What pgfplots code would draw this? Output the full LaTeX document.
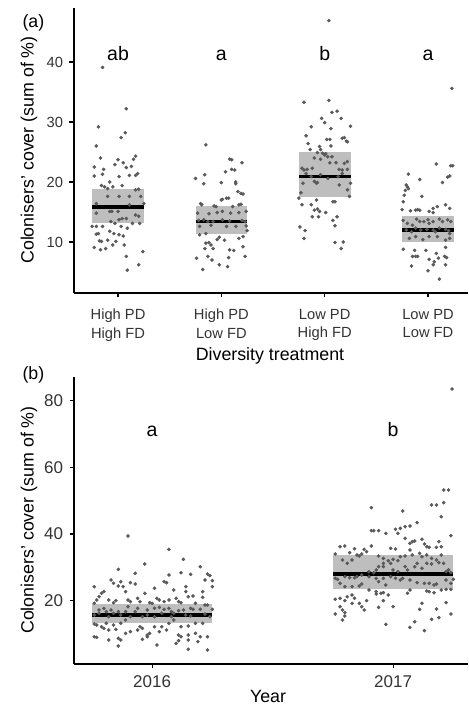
\documentclass[border=0pt]{standalone}
\usepackage{fontspec}
\setmainfont{Liberation Sans}
\usepackage{pgfplots}
\pgfplotsset{compat=1.18}
\definecolor{ptgray}{HTML}{595959}
\definecolor{bandgray}{HTML}{BEBEBE}
\definecolor{ticktext}{HTML}{333333}
\pgfplotsset{
  myaxis/.style={
    scale only axis, axis lines=left,
    axis line style={-, line width=1.1pt, black},
    tick style={black, line width=1.1pt},
    major tick length=4.5pt, tick align=outside,
    ticklabel style={font=\fontsize{14.7}{18.7}\selectfont, text=ticktext},
    yticklabel style={xshift=-3pt},
    /pgf/number format/assume math mode=true,
    clip=false,
  },
  pts/.style={only marks, mark=*, mark size=1.6pt, color=ptgray, mark options={draw=none, fill=ptgray}},
  band/.style={fill=bandgray, draw=none},
  meanline/.style={black, line width=3.8pt},
}
\begin{document}
\begin{tikzpicture}[x=1pt,y=1pt]
\useasboundingbox (0,0) rectangle (468,706);
% ---------------- panel (a)
\begin{axis}[myaxis, at={(74pt,413pt)}, anchor=south west,
  width=394pt, height=285pt,
  xmin=0.574, xmax=4.387, ymin=1.5, ymax=49,
  xtick={1,2,3,4},
  xticklabels={{High PD\\High FD},{High PD\\Low FD},{Low PD\\High FD},{Low PD\\Low FD}},
  xticklabel style={align=center, yshift=-8pt},
  ytick={10,20,30,40},
]
\addplot[band] coordinates {(0.75,13.1) (1.25,13.1) (1.25,18.8) (0.75,18.8)} -- cycle;
\addplot[band] coordinates {(1.75,11.3) (2.25,11.3) (2.25,16.05) (1.75,16.05)} -- cycle;
\addplot[band] coordinates {(2.75,17.45) (3.25,17.45) (3.25,25.05) (2.75,25.05)} -- cycle;
\addplot[band] coordinates {(3.75,9.95) (4.25,9.95) (4.25,14.3) (3.75,14.3)} -- cycle;
% group 1
\addplot[pts] coordinates {
(0.85,39.1) (1.08,32.2) (0.81,29.2) (1.07,28.2) (1.03,27.4) (0.79,26.0) (0.83,24.0) (1.17,24.3)
(1.15,23.8) (1.00,23.7) (1.05,23.2) (0.97,22.9) (0.77,22.5) (0.86,22.1) (0.77,21.0) (0.85,21.3)
(1.08,22.4) (1.13,22.6) (1.19,21.4) (1.17,21.1) (1.11,21.1) (1.01,20.9) (0.84,19.4) (0.87,19.2)
(0.90,18.9) (0.92,20.0) (0.95,19.2) (1.04,19.4) (1.17,18.7) (1.20,18.8) (0.90,17.6) (1.11,17.6)
(1.22,17.6) (1.01,17.6) (0.79,16.4) (1.25,16.4) (1.11,16.2) (0.92,15.1) (0.94,15.1) (1.00,15.1)
(0.79,14.8) (1.17,14.5) (1.20,14.3) (0.93,13.4) (1.01,13.7) (1.04,13.9) (1.08,13.9) (1.14,13.1)
(1.21,13.1) (0.97,13.1) (0.75,12.6) (0.79,12.6) (0.85,12.6) (1.03,12.6) (1.09,12.3) (0.79,11.3)
(0.81,11.4) (0.92,11.8) (0.96,11.4) (1.01,11.2) (0.82,10.2) (0.84,10.1) (0.90,10.3) (0.98,10.1)
(1.05,11.0) (0.77,9.1) (0.83,8.7) (0.88,8.9) (0.95,9.5) (1.06,9.5) (1.24,8.4) (1.08,7.6)
(1.20,6.2) (1.09,5.3)
};
% group 2
\addplot[pts] coordinates {
(1.85,26.2) (2.08,23.8) (2.10,23.7) (2.20,23.2) (2.04,21.7) (2.10,22.1) (2.13,22.0) (1.75,20.6)
(1.84,21.2) (1.83,19.7) (2.00,19.9) (2.14,20.0) (2.14,19.7) (2.16,18.4) (2.19,18.1) (2.21,18.0)
(2.00,17.0) (2.01,17.1) (2.05,17.3) (2.07,17.3) (1.80,16.4) (1.81,16.2) (1.93,16.0) (1.95,15.9)
(2.17,16.2) (2.19,16.3) (2.11,15.9) (1.77,14.8) (1.88,14.7) (1.96,14.9) (2.01,15.1) (2.09,14.8)
(2.17,14.9) (2.24,15.1) (1.78,13.6) (1.83,13.7) (1.87,13.4) (1.92,13.4) (2.01,13.7) (2.08,13.5)
(2.20,13.6) (2.23,13.4) (1.79,12.6) (1.90,12.8) (2.05,12.6) (2.14,12.6) (2.24,12.7) (1.79,11.2)
(1.85,11.4) (1.98,10.8) (2.03,10.3) (2.17,10.6) (2.21,10.9) (2.25,11.9) (1.85,9.8) (1.88,9.9)
(1.90,9.5) (1.92,8.9) (1.96,10.4) (1.84,8.9) (2.08,8.7) (2.12,8.6) (2.21,9.2) (1.76,7.3)
(1.87,7.6) (1.91,7.0) (2.07,7.4) (2.23,7.6) (1.82,5.4) (1.98,6.2) (2.06,5.9)
};
% group 3
\addplot[pts] coordinates {
(3.04,46.9) (2.80,33.3) (3.04,33.6) (3.07,31.6) (3.12,31.8) (2.97,30.6) (3.00,29.9) (3.16,30.6)
(2.87,29.2) (3.06,28.9) (3.25,29.3) (2.82,27.7) (3.02,27.1) (3.05,27.1) (3.17,27.3) (3.19,27.4)
(3.21,26.8) (3.22,26.7) (2.84,26.4) (2.95,25.9) (3.06,26.0) (2.86,25.4) (2.93,24.9) (2.98,24.8)
(3.00,24.5) (3.01,24.7) (3.03,24.2) (2.96,25.4) (2.90,24.0) (2.96,23.8) (3.07,24.2) (3.11,23.2)
(3.05,23.2) (3.19,23.1) (3.22,23.4) (2.78,22.3) (2.80,22.0) (2.83,22.1) (2.88,22.3) (3.14,22.1)
(3.17,22.0) (3.22,22.1) (2.82,21.4) (2.87,20.9) (2.96,21.2) (3.03,20.6) (3.13,20.9) (3.17,21.4)
(2.79,19.8) (2.92,19.8) (2.90,20.1) (2.93,19.9) (3.14,19.5) (3.25,19.8) (3.22,18.7) (2.77,18.2)
(3.24,17.6) (2.75,17.3) (2.92,17.0) (3.08,16.7) (3.10,16.7) (2.78,16.2) (2.87,16.2) (2.90,15.3)
(2.93,15.5) (2.95,15.1) (3.01,14.9) (2.88,14.2) (2.94,14.2) (3.08,13.6) (3.12,14.2) (3.10,12.7)
(2.76,12.5) (2.81,11.9) (2.80,10.6) (3.10,9.9) (3.18,10.0) (3.16,8.9)
};
% group 4
\addplot[pts] coordinates {
(4.23,35.6) (4.08,23.0) (4.22,22.7) (4.24,22.7) (3.81,21.3) (4.21,21.0) (4.19,20.8) (3.92,20.4)
(3.79,19.5) (3.80,19.2) (3.81,18.9) (4.14,19.9) (3.78,18.6) (3.77,17.8) (3.94,17.6) (3.76,16.7)
(4.17,16.2) (4.09,15.9) (4.05,15.6) (3.75,15.4) (3.83,15.2) (3.88,15.3) (3.90,15.4) (3.92,15.3)
(4.01,15.1) (4.05,14.9) (4.21,15.6) (3.89,13.8) (3.92,13.4) (3.96,13.4) (4.00,13.7) (4.01,13.1)
(4.05,13.4) (3.76,13.6) (3.80,13.1) (3.85,12.8) (4.11,13.8) (4.14,13.4) (4.19,13.7) (4.22,13.4)
(3.79,12.0) (3.84,11.7) (3.88,12.3) (3.93,12.0) (3.99,12.1) (4.05,12.0) (4.07,11.7) (4.11,12.3)
(4.17,12.1) (4.20,11.9) (4.21,11.4) (3.82,10.6) (3.88,10.9) (3.95,10.4) (4.01,10.9) (4.09,10.9)
(4.17,10.3) (4.21,10.6) (3.76,8.8) (3.87,8.6) (3.98,8.6) (4.17,9.1) (3.85,7.6) (3.88,7.6)
(3.90,7.6) (4.01,7.1) (4.10,7.3) (4.16,7.6) (4.08,8.1) (4.18,7.4) (3.84,6.0) (4.05,6.2)
(4.06,6.7) (4.17,6.2) (4.00,5.2) (4.11,3.8)
};
\addplot[meanline] coordinates {(0.75,15.8) (1.25,15.8)};
\addplot[meanline] coordinates {(1.75,13.4) (2.25,13.4)};
\addplot[meanline] coordinates {(2.75,20.9) (3.25,20.9)};
\addplot[meanline] coordinates {(3.75,12.0) (4.25,12.0)};
\node[anchor=base, font=\fontsize{19.5}{22}\selectfont] at (axis cs:1,40.2) {ab};
\node[anchor=base, font=\fontsize{19.5}{22}\selectfont] at (axis cs:2,40.2) {a};
\node[anchor=base, font=\fontsize{19.5}{22}\selectfont] at (axis cs:3,40.2) {b};
\node[anchor=base, font=\fontsize{19.5}{22}\selectfont] at (axis cs:4,40.2) {a};
\end{axis}
% ---------------- panel (b)
\begin{axis}[myaxis, at={(74pt,42pt)}, anchor=south west,
  width=394pt, height=287pt,
  xmin=0.676, xmax=2.311, ymin=1, ymax=87.1,
  xtick={1,2}, xticklabels={2016,2017},
  ticklabel style={font=\fontsize{17}{20}\selectfont},
  xticklabel style={yshift=-4pt},
  ytick={20,40,60,80},
]
\addplot[band] coordinates {(0.75,13.2) (1.25,13.2) (1.25,19.0) (0.75,19.0)} -- cycle;
\addplot[band] coordinates {(1.75,23.4) (2.25,23.4) (2.25,33.7) (1.75,33.7)} -- cycle;
% 2016
\addplot[pts] coordinates {
(0.90,39.4) (1.07,35.4) (0.97,31.0) (1.13,32.4) (1.20,30.2) (0.86,29.4) (0.93,28.2) (1.07,27.7)
(1.12,28.4) (1.16,27.9) (1.23,28.0) (1.24,27.5) (1.22,26.2) (1.25,26.0) (0.76,24.2) (0.83,26.2)
(0.84,25.2) (0.87,25.7) (0.88,24.2) (0.86,24.4) (0.91,25.4) (0.93,25.0) (1.05,25.7) (1.06,25.4)
(1.01,23.7) (1.14,24.2) (1.14,22.7) (1.21,22.7) (1.25,24.2) (0.78,21.2) (0.79,22.2) (0.80,22.7)
(0.82,20.2) (0.84,19.4) (0.85,20.0) (0.89,22.7) (0.90,20.2) (0.91,19.7) (0.94,20.7) (0.95,19.7)
(0.97,22.2) (0.99,19.4) (1.00,19.2) (1.02,20.7) (1.03,20.2) (1.05,19.7) (1.07,20.2) (1.09,23.2)
(1.10,20.7) (1.11,19.7) (1.12,19.4) (1.15,21.2) (1.17,21.4) (1.18,19.2) (1.21,21.0) (1.23,18.7)
(0.76,19.2) (0.77,20.2)
(0.78,17.2) (0.80,17.7) (0.81,16.7) (0.83,17.2) (0.86,16.7) (0.90,18.2) (0.93,16.7) (0.94,17.7)
(0.98,17.2) (1.01,17.7) (1.03,18.0) (1.05,17.4) (1.07,17.7) (1.08,16.7) (1.11,17.0) (1.13,17.2)
(1.16,17.7) (1.17,17.4) (1.20,17.4) (1.22,18.7) (1.25,17.4) (0.76,15.7) (0.78,16.2) (0.82,15.2)
(0.84,16.2) (0.87,15.7) (0.89,16.7) (0.91,15.2) (0.96,15.2) (0.98,15.7) (1.01,15.2) (1.04,16.2)
(1.08,15.2) (1.09,16.2) (1.14,15.7) (1.16,15.4) (1.22,16.0) (1.24,15.2)
(0.76,13.0) (0.77,12.7) (0.79,12.2) (0.81,13.2) (0.84,12.7) (0.87,13.2) (0.89,14.2) (0.95,12.2)
(0.96,11.7) (1.01,12.2) (1.04,12.2) (1.07,13.2) (1.09,14.2) (1.12,12.2) (1.15,12.4) (1.18,13.2)
(1.21,13.2) (0.80,11.7) (0.82,11.2) (0.85,11.4) (0.89,10.2) (0.91,10.7) (0.94,11.2) (0.98,9.7)
(0.99,10.2) (1.03,10.7) (1.06,11.2) (1.11,9.7) (1.12,9.2) (1.15,9.7) (1.18,10.2) (1.20,9.2)
(1.23,9.2) (0.76,9.2) (0.77,9.0) (0.82,8.2) (0.86,8.7) (0.87,8.2) (0.96,8.4) (0.98,9.2)
(1.02,6.7) (1.10,7.2) (1.11,8.0) (1.15,8.2) (1.19,7.7) (0.86,6.4) (1.15,5.4) (1.23,5.2)
};
% 2017
\addplot[pts] coordinates {
(2.245,83.5) (2.21,53.2) (2.23,53.2) (2.21,49.4) (2.16,48.7) (2.18,48.7) (1.91,47.9) (2.20,45.2)
(2.04,46.9) (2.07,42.4) (2.05,42.2) (2.03,41.7) (2.01,41.4) (2.10,43.4) (1.91,41.0) (1.92,41.0)
(1.94,41.0) (1.97,40.2) (2.02,40.2) (2.05,38.7) (2.08,37.7) (2.09,37.9) (2.07,37.2) (1.99,35.7)
(2.01,35.5) (2.12,38.4) (2.13,37.0) (2.14,36.2) (2.15,36.0) (2.19,37.7) (2.20,36.2) (2.18,36.0)
(2.24,39.5) (1.78,36.2) (1.80,36.4) (1.84,35.6) (1.86,33.4) (1.88,35.4) (1.91,36.4) (1.89,34.7)
(1.82,34.4) (1.85,33.7) (1.87,34.0) (1.76,34.0) (1.79,32.2) (1.81,31.2) (1.83,32.2) (1.94,33.4)
(1.96,32.7) (1.96,31.2) (1.98,32.0) (2.00,32.4) (2.02,32.0) (2.03,33.2) (2.05,33.4) (2.07,35.2)
(2.08,33.7) (2.11,34.2) (2.12,33.2) (2.14,33.7) (2.16,32.7) (2.18,32.2) (2.20,33.7) (2.21,31.2)
(2.23,29.2)
(1.76,26.7) (1.77,26.4) (1.80,27.2) (1.82,26.9) (1.84,26.9) (1.85,27.2) (1.87,27.7) (1.90,28.7)
(1.92,28.4) (1.93,29.2) (1.94,30.2) (1.96,30.2) (1.99,31.2) (2.00,29.2) (2.02,28.7) (2.05,30.2)
(2.06,29.2) (2.09,30.2) (2.10,31.2) (2.12,29.7) (2.14,31.2) (2.16,31.0) (2.19,31.4) (2.22,28.7)
(2.23,29.2) (2.24,28.4) (2.25,26.4)
(1.78,25.2) (1.80,24.2) (1.83,24.2) (1.86,24.4) (1.87,25.0) (1.90,27.2) (1.93,26.7) (1.94,25.7)
(1.96,26.7) (1.97,24.7) (1.99,27.2) (2.01,26.7) (2.03,26.2) (2.04,26.7) (2.07,26.2) (2.10,25.4)
(2.13,25.2) (2.15,25.2) (2.17,24.7) (2.18,25.0) (2.22,26.2) (2.24,25.2)
(1.76,20.4) (1.78,20.7) (1.80,20.0) (1.81,21.2) (1.83,21.7) (1.84,20.7) (1.86,19.2) (1.89,20.0)
(1.90,23.2) (1.93,22.0) (1.93,22.7) (1.95,22.2) (1.96,22.4) (1.98,21.7) (2.06,22.2) (2.07,23.2)
(2.14,22.9) (2.15,22.7) (2.17,22.4) (2.20,23.2) (2.22,23.4) (2.24,23.4)
(1.78,18.2) (1.79,17.2) (1.80,16.4) (1.83,19.2) (1.87,18.2) (1.88,17.2) (1.94,18.0) (1.96,20.0)
(2.00,18.2) (2.11,17.4) (2.12,19.2) (2.18,17.5) (2.22,19.4) (1.76,16.0) (1.79,14.2) (1.80,15.4)
(1.97,12.9) (2.07,12.0) (2.09,13.7) (2.13,11.0) (2.16,14.4) (2.19,14.9) (2.24,16.0)
};
\addplot[meanline] coordinates {(0.75,15.8) (1.25,15.8)};
\addplot[meanline] coordinates {(1.75,28.1) (2.25,28.1)};
\node[anchor=base, font=\fontsize{19.5}{22}\selectfont] at (axis cs:1,69.3) {a};
\node[anchor=base, font=\fontsize{19.5}{22}\selectfont] at (axis cs:2,69.3) {b};
\end{axis}
% ---------------- labels
\node[rotate=90, anchor=center, font=\fontsize{17.8}{21}\selectfont] at (29,556) {Colonisers' cover (sum of \%)};
\node[rotate=90, anchor=center, font=\fontsize{17.8}{21}\selectfont] at (29,186) {Colonisers' cover (sum of \%)};
\node[anchor=base, font=\fontsize{17.8}{21}\selectfont] at (270,345) {Diversity treatment};
\node[anchor=base, font=\fontsize{17.8}{21}\selectfont] at (268,3) {Year};
\node[anchor=base west, font=\fontsize{17.8}{21}\selectfont] at (19,678) {(a)};
\node[anchor=base west, font=\fontsize{17.8}{21}\selectfont] at (19,326) {(b)};
\end{tikzpicture}
\end{document}
